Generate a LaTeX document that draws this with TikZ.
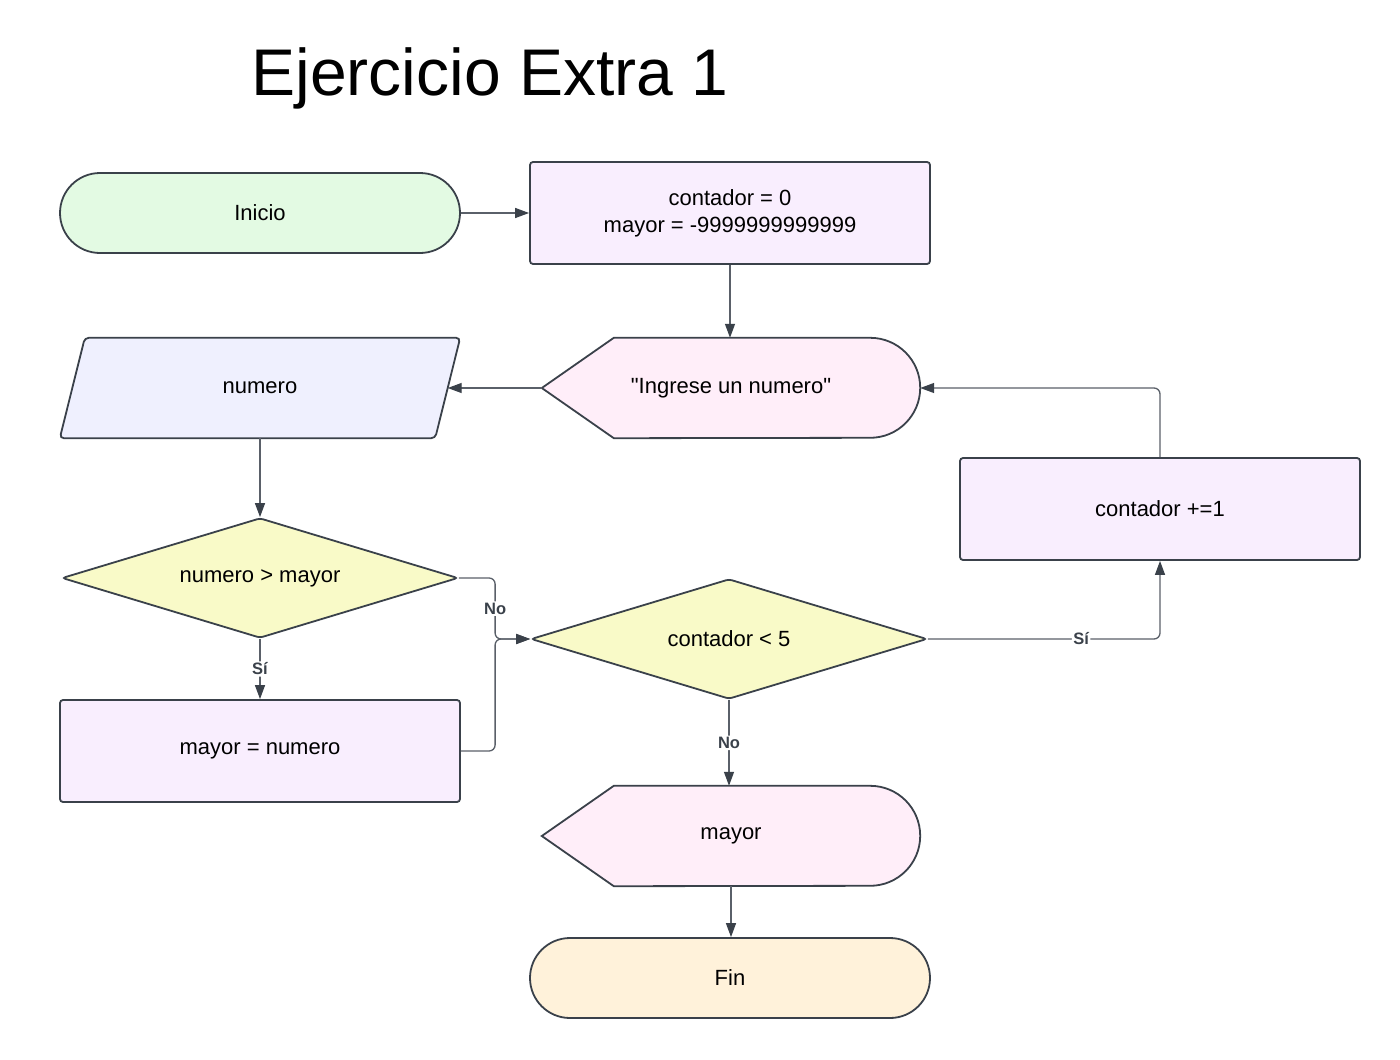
\documentclass[tikz,border=0pt]{standalone}
\usepackage{fontspec}
\setmainfont{Liberation Sans}[Ligatures=TeXOff]
\usetikzlibrary{arrows.meta,shapes.geometric,backgrounds,calc}
\definecolor{lineC}{HTML}{3A414A}
\definecolor{wireC}{HTML}{5A6069}
\definecolor{startC}{HTML}{E3FAE3}
\definecolor{procC}{HTML}{F9EEFE}
\definecolor{showC}{HTML}{FFEEF9}
\definecolor{readC}{HTML}{EFF0FE}
\definecolor{askC}{HTML}{F9FAC8}
\definecolor{endC}{HTML}{FFF2DA}
\tikzset{
  txt/.style={font=\fontsize{22}{27}\selectfont, align=center, text=black},
  term/.style={txt, draw=lineC, line width=1.8pt, rounded corners=40pt, minimum width=400pt, minimum height=80pt},
  proc/.style={txt, draw=lineC, line width=1.8pt, fill=procC, rounded corners=3pt, minimum width=400pt, minimum height=102pt},
  ask/.style={txt, diamond, aspect=3.3, draw=lineC, line width=1.8pt, fill=askC, rounded corners=3pt, inner sep=0pt, minimum width=396pt, minimum height=120pt},
  shapebox/.style={txt, inner sep=0pt, minimum width=378pt, minimum height=100pt},
  outline/.style={draw=lineC, line width=1.8pt},
  wire/.style={draw=wireC, line width=1.3pt, rounded corners=6pt, -{Triangle[length=14pt,width=10pt,color=lineC]}},
  tag/.style={font=\fontsize{16.5}{18}\bfseries\selectfont, text=lineC, fill=white, inner sep=1.5pt},
}
\begin{document}
\begin{tikzpicture}[x=1pt, y=-1pt]
    \useasboundingbox (0,0) rectangle (1400,1060);
        \node[font=\fontsize{66}{70}\selectfont, anchor=base] (title) at (490,95) {Ejercicio Extra 1};
        % nodes
        \node[term, fill=startC] (inicio) at (260,213) {Inicio};
        \node[proc] (init) at (730,213) {contador = 0\\mayor = -9999999999999};
        \node[shapebox] (ingrese) at (731,388) {"Ingrese un numero"};
        \node[shapebox, minimum width=400pt] (numero) at (260,388) {numero};
        \node[ask] (mayorq) at (260,578) {numero > mayor};
        \node[proc] (asigna) at (260,751) {mayor = numero};
        \node[ask] (contq) at (729,639) {contador < 5};
        \node[proc] (suma) at (1160,509) {contador +=1};
        \node[shapebox] (muestra) at (731,836) {mayor};
        \node[term, fill=endC] (fin) at (730,978) {Fin};
        % shapes behind the text
        \begin{scope}[on background layer]
        \filldraw[outline, fill=showC] (ingrese.west) -- ([xshift=72pt]ingrese.north west) -- ([xshift=-50pt]ingrese.north east) arc[start angle=90, end angle=-90, radius=50pt] -- ([xshift=72pt]ingrese.south west) -- cycle;
        \filldraw[outline, fill=showC] (muestra.west) -- ([xshift=72pt]muestra.north west) -- ([xshift=-50pt]muestra.north east) arc[start angle=90, end angle=-90, radius=50pt] -- ([xshift=72pt]muestra.south west) -- cycle;
        \filldraw[outline, fill=readC, rounded corners=4pt] ([xshift=25pt]numero.north west) -- (numero.north east) -- ([xshift=-25pt]numero.south east) -- (numero.south west) -- cycle;
        \end{scope}
        % connectors
        \coordinate (numeroin) at ([xshift=-12.5pt]numero.east);
        \coordinate (junta) at ([xshift=-35pt]contq.west);
        \draw[wire] (inicio.east) -- (init.west);
        \draw[wire] (init.south) -- (ingrese.north -| init.south);
        \draw[wire] (ingrese.west) -- (numeroin);
        \draw[wire] (numero.south) -- (mayorq.north);
        \draw[wire] (mayorq.south) -- (asigna.north) node[tag, midway] {Sí};
        \draw[wire] (asigna.east) -| (junta) -- (contq.west);
        \draw[wire] (mayorq.east) -- (mayorq.east -| junta) -- (junta) node[tag, midway] {No} -- (contq.west);
        \draw[wire] (contq.east) -| (suma.south) node[tag, pos=0.33] {Sí};
        \draw[wire] (suma.north) |- (ingrese.east);
        \draw[wire] (contq.south) -- (muestra.north -| contq.south) node[tag, midway] {No};
        \draw[wire] (muestra.south) -- (fin.north -| muestra.south);
    \end{tikzpicture}
\end{document}
